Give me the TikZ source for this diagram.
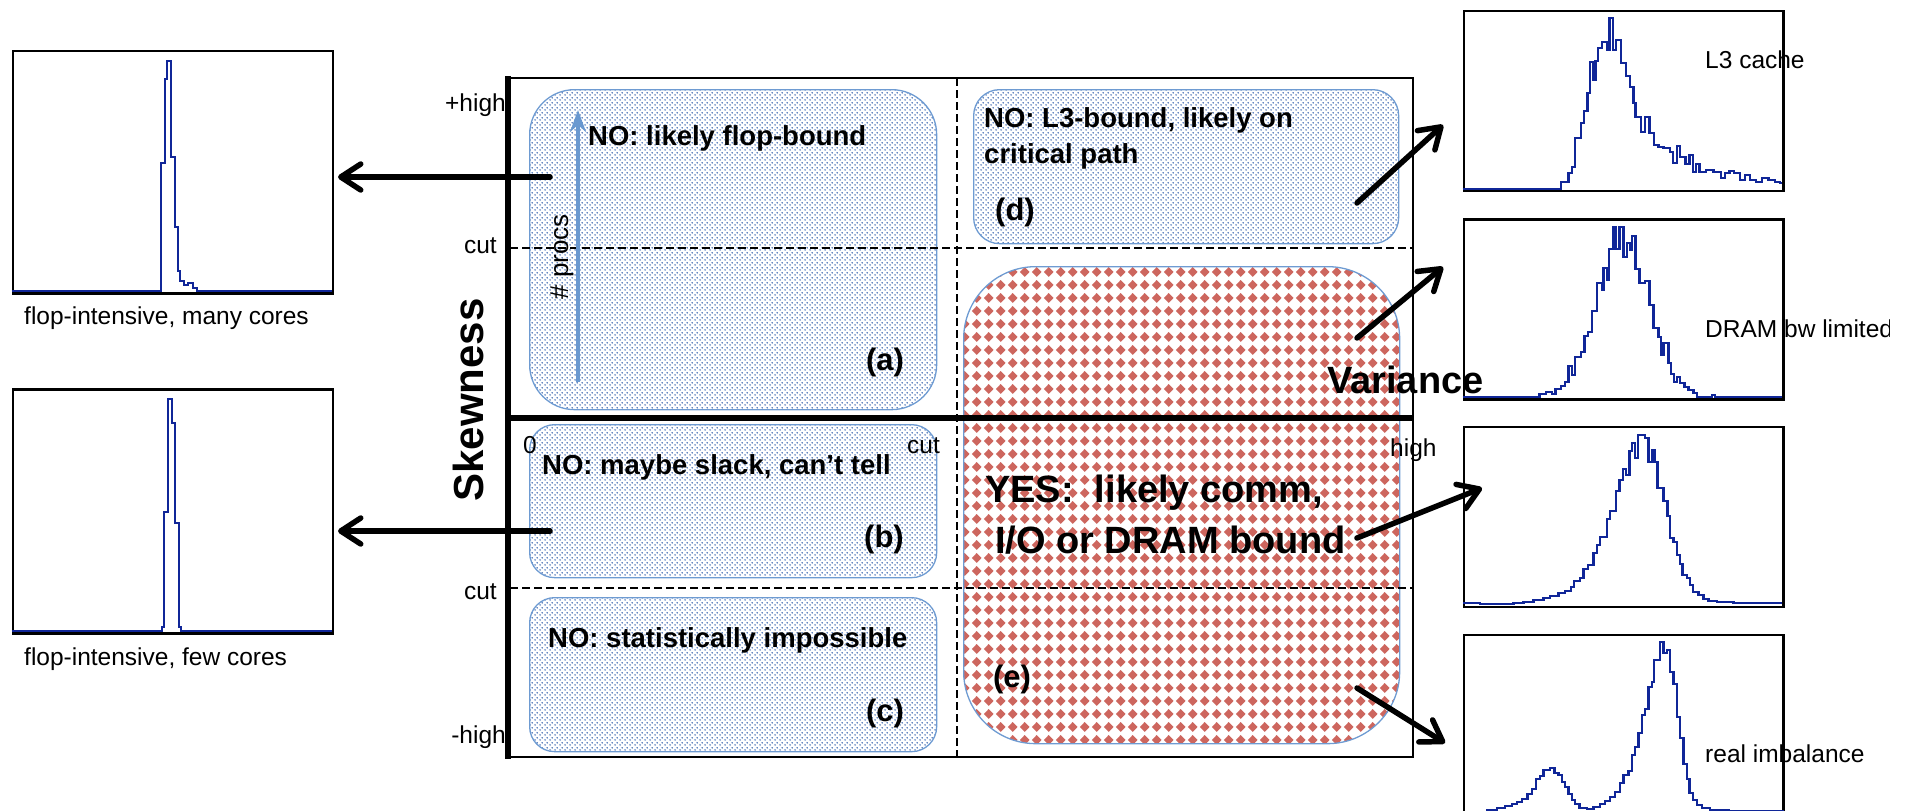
\documentclass[tikz,border=0pt]{standalone}
\usepackage{fontspec}
\setmainfont{Liberation Sans}
\usetikzlibrary{arrows.meta,patterns.meta}

\definecolor{histblue}{RGB}{16,38,152}
\definecolor{dotblue}{RGB}{50,95,172}
\definecolor{zoneedge}{RGB}{110,155,210}
\definecolor{procblue}{RGB}{105,152,208}
\definecolor{diamondred}{RGB}{205,102,94}

% fine staggered dots used for the "NO" regions
\tikzdeclarepattern{
  name=bluedots, type=uncolored,
  bounding box={(0pt,0pt) and (4.6pt,4.6pt)},
  tile size={(4.6pt,4.6pt)},
  code={
    \fill (1.15pt,1.15pt) circle [radius=0.85pt];
    \fill (3.45pt,3.45pt) circle [radius=0.85pt];
  }
}
% grid of diamonds used for the "YES" region
\tikzdeclarepattern{
  name=diamonds, type=uncolored,
  bounding box={(0pt,0pt) and (11.7pt,13pt)},
  tile size={(11.7pt,13pt)},
  code={
    \fill (5.85pt,1.2pt) -- (10.8pt,6.5pt) -- (5.85pt,11.8pt) -- (0.9pt,6.5pt) -- cycle;
  }
}

\begin{document}
\begin{tikzpicture}[x=1pt,y=-1pt,
  lbl/.style={font=\fontsize{24.5}{29}\selectfont, inner sep=0pt},
  bld/.style={font=\fontsize{27.5}{33}\selectfont\bfseries, inner sep=0pt},
  big/.style={font=\fontsize{38}{44}\selectfont\bfseries, inner sep=0pt},
  lettertag/.style={font=\fontsize{31}{36}\selectfont\bfseries, inner sep=0pt},
  zone/.style={draw=zoneedge, line width=1.3pt, pattern=bluedots, pattern color=dotblue, anchor=north west, inner sep=0pt},
  hotzone/.style={draw=zoneedge, line width=1.3pt, preaction={fill=white}, pattern=diamonds, pattern color=diamondred, anchor=north west, inner sep=0pt},
  hbox/.style={draw=black, line width=2.4pt, fill=white, anchor=north west, inner sep=0pt},
  hcurve/.style={histblue, line width=2.3pt, line join=miter},
  cutline/.style={line width=2pt, dash pattern=on 8pt off 4pt},
  pointer/.style={line width=5.5pt, line cap=round, -{Straight Barb[length=20pt,width=26pt,line cap=round,line join=round]}},
  procarrow/.style={procblue, line width=4.5pt, -{Stealth[length=22pt,width=16pt]}}
]
\useasboundingbox (0,0) rectangle (1906,811);

% ---------- regions of the variance / skewness plane ----------
\node[zone, rounded corners=45pt, minimum width=407pt, minimum height=320pt] (za) at (529,89) {};
\node[zone, rounded corners=25pt, minimum width=407pt, minimum height=153pt] (zb) at (529,424) {};
\node[zone, rounded corners=25pt, minimum width=407pt, minimum height=154pt] (zc) at (529,597) {};
\node[zone, rounded corners=26pt, minimum width=425pt, minimum height=154pt] (zd) at (973,89) {};
\node[hotzone, rounded corners=72pt, minimum width=436pt, minimum height=477pt] (ze) at (963,266) {};

% ---------- frame, axes and cut lines ----------
\draw[line width=1.5pt] (508,78) -- (1413,78) -- (1413,757) -- (508,757);
\draw[cutline] (957,78) -- (957,757);
\draw[cutline] (510,248) -- (1413,248);
\draw[cutline] (510,588) -- (1413,588);
\draw[line width=5.5pt] (508,76) -- (508,759);
\draw[line width=5.5pt] (506,418) -- (1413,418);

% axis labels
\node[lbl, anchor=base east] (yhi) at (506,111) {+high};
\node[lbl, anchor=base east] (ycutu) at (497,253) {cut};
\node[lbl, anchor=base east] (ycutl) at (497,599) {cut};
\node[lbl, anchor=base east] (ylo) at (506,743) {-high};
\node[lbl, anchor=base west] (xzero) at (523,453) {0};
\node[lbl, anchor=base west] (xcut) at (907,453) {cut};
\node[lbl, anchor=base west] (xhigh) at (1390,456) {high};
\node[font=\fontsize{42}{48}\selectfont\bfseries, inner sep=0pt, rotate=90, anchor=base] (skew) at (483,400) {Skewness};

% number of processes grows upward
\coordinate (procstail) at (578,382);
\coordinate (procshead) at (578,110);
\draw[procarrow] (procstail) -- (procshead);
\node[font=\fontsize{26}{30}\selectfont, inner sep=0pt, rotate=90, anchor=base] (procs) at (568,257) {\# procs};

% region texts
\node[bld, anchor=base west] (ta) at (588,145) {NO: likely flop-bound};
\node[bld, anchor=base west] (tb) at (542,474) {NO: maybe slack, can’t tell};
\node[bld, anchor=base west] (tc) at (548,647) {NO: statistically impossible};
\node[bld, anchor=base west] (tdu) at (984,127) {NO: L3-bound, likely on};
\node[bld, anchor=base west] (tdl) at (984,163) {critical path};
\node[big, anchor=base west] (teu) at (985,502) {YES:\ \ likely comm,};
\node[big, anchor=base west] (tel) at (995,553) {I/O or DRAM bound};

\node[lettertag] (la) at (885,362) {(a)};
\node[lettertag] (lb) at (884,539) {(b)};
\node[lettertag] (lc) at (885,713) {(c)};
\node[lettertag] (ld) at (1015,212) {(d)};
\node[lettertag] (le) at (1012,679) {(e)};

% ---------- left histograms ----------
\node[hbox, minimum width=319.7pt, minimum height=242.3pt] (hl1) at (12,50) {};
\begin{scope}[shift={(0,40)}, x=0.33333pt, y=-0.33333pt]
  \draw[hcurve] (36,752) -| (482,368) -| (494,117) -| (502,62) -| (514,350) -| (524,560)
    -| (534,692) -| (541,722) -| (553,735) -| (565,728) -| (580,745) -| (590,752) -| (995,752);
\end{scope}
\node[lbl, anchor=base west] (capl1) at (24,324) {flop-intensive, many cores};

\node[hbox, minimum width=319.7pt, minimum height=244pt] (hl2) at (12,388.3) {};
\begin{scope}[shift={(0,380)}, x=0.33333pt, y=-0.33333pt]
  \draw[hcurve] (36,752) -| (485,740) -| (493,395) -| (503,58) -| (515,128) -| (525,430)
    -| (536,740) -| (543,752) -| (995,752);
\end{scope}
\node[lbl, anchor=base west] (capl2) at (24,665) {flop-intensive, few cores};

% ---------- right histograms ----------
\node[hbox, line width=2.2pt, minimum width=319.6pt, minimum height=180pt] (hr1) at (1462.7,10) {};
\begin{scope}[shift={(1450,0)}, x=0.33333pt, y=-0.33333pt]
  \draw[hcurve] (38,567) -| (333,545) -| (355,518) -| (365,500) -| (375,415) -| (392,370)
    -| (402,332) -| (412,278) -| (420,185) -| (428,240) -| (436,183) -| (443,145) -| (455,125)
    -| (470,150) -| (478,55) -| (488,150) -| (497,120) -| (512,188) -| (527,228) -| (540,262)
    -| (550,308) -| (556,350) -| (572,395) -| (585,350) -| (598,398) -| (612,435) -| (625,440)
    -| (640,445) -| (660,455) -| (668,488) -| (680,438) -| (690,470) -| (706,492) -| (718,465)
    -| (728,515) -| (738,493) -| (748,515) -| (768,510) -| (790,515) -| (812,535) -| (825,520)
    -| (838,512) -| (852,520) -| (870,540) -| (885,525) -| (900,540) -| (918,545) -| (935,535)
    -| (955,540) -| (975,545) -| (990,550) -| (997,550);
\end{scope}
\node[lbl, anchor=base west] (capr1) at (1705,68) {L3 cache};

\node[hbox, line width=2.2pt, minimum width=319.6pt, minimum height=180pt] (hr2) at (1462.7,218.3) {};
\begin{scope}[shift={(1450,200)}, x=0.33333pt, y=-0.33333pt]
  \draw[hcurve] (38,590) -| (268,583) -| (288,575) -| (305,583) -| (316,568) -| (333,558)
    -| (345,545) -| (355,498) -| (365,525) -| (375,470) -| (392,455) -| (403,408) -| (413,395)
    -| (425,333) -| (441,250) -| (455,270) -| (460,205) -| (472,240) -| (477,148) -| (490,80)
    -| (498,148) -| (508,82) -| (520,172) -| (530,130) -| (540,150) -| (545,108) -| (556,208)
    -| (568,250) -| (585,243) -| (598,315) -| (610,383) -| (625,412) -| (633,465) -| (640,430)
    -| (655,490) -| (662,522) -| (672,545) -| (680,530) -| (690,548) -| (703,560) -| (715,570)
    -| (730,578) -| (740,590) -| (785,585) -| (795,590) -| (997,590);
\end{scope}
\begin{scope}
  \clip (1700,295) rectangle (1889,360);
  \node[lbl, anchor=base west] (capr2) at (1705,337) {DRAM bw limited};
\end{scope}

\node[hbox, line width=2.2pt, minimum width=319.6pt, minimum height=180pt] (hr3) at (1462.7,426) {};
\begin{scope}[shift={(1450,410)}, x=0.33333pt, y=-0.33333pt]
  \draw[hcurve] (40,579) -| (90,583) -| (150,581) -| (190,578) -| (220,575) -| (250,570)
    -| (280,565) -| (300,557) -| (325,550) -| (345,542) -| (362,532) -| (372,512) -| (390,505)
    -| (400,478) -| (413,465) -| (430,428) -| (440,405) -| (450,382) -| (470,328) -| (480,302)
    -| (497,242) -| (508,210) -| (518,177) -| (528,195) -| (538,124) -| (545,100) -| (555,145)
    -| (563,75) -| (585,83) -| (595,155) -| (605,120) -| (613,155) -| (622,235) -| (640,272)
    -| (652,318) -| (660,383) -| (670,395) -| (680,435) -| (690,462) -| (697,495) -| (710,505)
    -| (720,525) -| (728,545) -| (745,555) -| (760,568) -| (775,573) -| (800,577) -| (850,578)
    -| (900,580) -| (997,580);
\end{scope}

\node[hbox, line width=2.2pt, minimum width=319.6pt, minimum height=200pt] (hr4) at (1462.7,634) {};
\begin{scope}[shift={(1450,610)}, x=0.33333pt, y=-0.33333pt]
  \draw[hcurve] (38,606) -| (110,600) -| (140,595) -| (165,588) -| (185,582) -| (200,575)
    -| (215,568) -| (232,552) -| (245,537) -| (258,508) -| (270,497) -| (280,480) -| (300,474)
    -| (313,488) -| (325,494) -| (335,517) -| (345,532) -| (355,552) -| (365,570) -| (375,582)
    -| (388,594) -| (410,598) -| (430,592) -| (450,582) -| (465,574) -| (480,562) -| (495,547)
    -| (510,520) -| (520,495) -| (535,484) -| (545,435) -| (555,412) -| (565,370) -| (575,315)
    -| (585,296) -| (595,230) -| (605,215) -| (612,150) -| (630,97) -| (640,130) -| (650,120)
    -| (660,185) -| (670,222) -| (680,322) -| (690,383) -| (700,462) -| (710,507) -| (718,548)
    -| (728,570) -| (740,585) -| (755,595) -| (780,600) -| (835,603) -| (997,606);
\end{scope}
\node[lbl, anchor=base west] (capr4) at (1705,762) {real imbalance};

\node[font=\fontsize{38}{44}\selectfont\bfseries, inner sep=0pt, anchor=base west] (var) at (1327,393) {Variance};

% ---------- pointers from regions to example histograms ----------
\coordinate (atail) at (550,177);  \coordinate (ahead) at (338,177);
\coordinate (btail) at (550,531);  \coordinate (bhead) at (338,531);
\coordinate (dtail) at (1357,203); \coordinate (dhead) at (1443,125);
\coordinate (etail1) at (1357,338); \coordinate (ehead1) at (1443,267);
\coordinate (etail2) at (1357,538); \coordinate (ehead2) at (1482,488);
\coordinate (etail3) at (1357,688); \coordinate (ehead3) at (1445,743);
\draw[pointer] (atail) -- (ahead);
\draw[pointer] (btail) -- (bhead);
\draw[pointer] (dtail) -- (dhead);
\draw[pointer] (etail1) -- (ehead1);
\draw[pointer] (etail2) -- (ehead2);
\draw[pointer] (etail3) -- (ehead3);
\end{tikzpicture}
\end{document}
